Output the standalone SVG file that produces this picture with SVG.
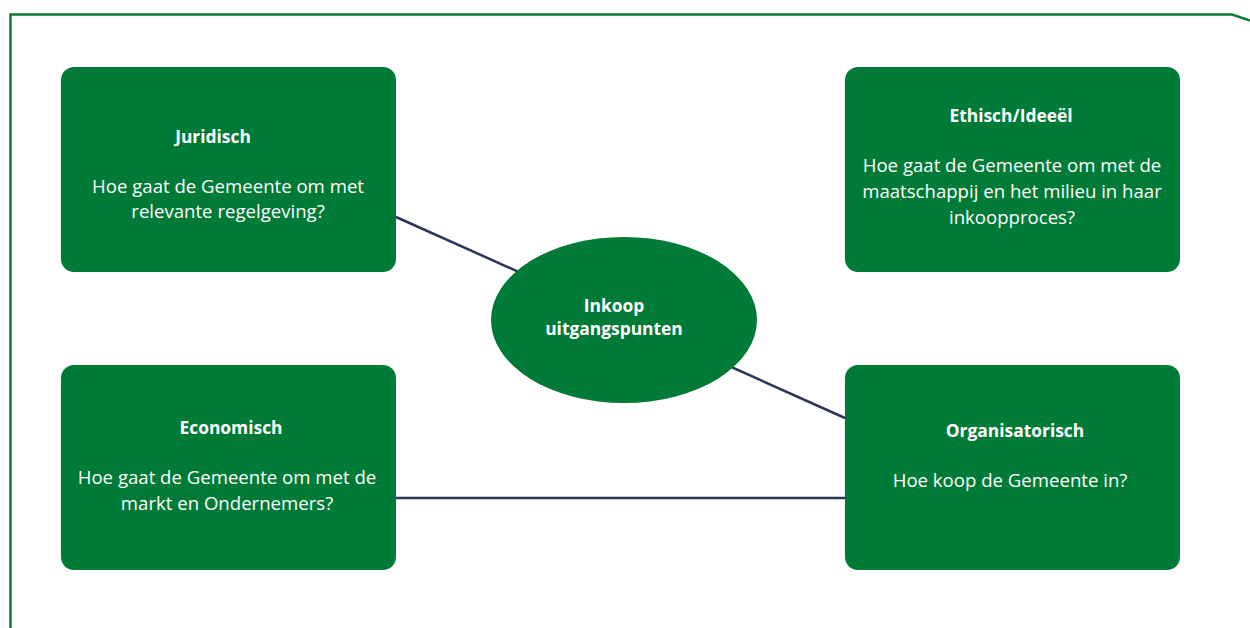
<svg xmlns="http://www.w3.org/2000/svg" width="1250" height="628" viewBox="0 0 1250 628">
<style>
.box{fill:#007a37;}
.t{font-family:"Open Sans","Noto Sans","Liberation Sans",sans-serif;fill:#ffffff;text-anchor:middle;font-size:18.6px;}
.b{font-weight:bold;font-size:17.4px;}
.conn{stroke:#2b3459;stroke-width:2.5;fill:none;}
</style>
<rect width="1250" height="628" fill="#ffffff"/>
<path d="M10.5,628 L10.5,14.5 L1232,14.5 L1250,20.5" fill="none" stroke="#0f7a36" stroke-width="2.5"/>
<g id="connectors">
<line class="conn" x1="396" y1="217" x2="845" y2="418"/>
<line class="conn" x1="396" y1="498" x2="845" y2="498"/>
</g>
<g id="juridisch">
<rect class="box" x="61" y="67" width="335" height="205" rx="13"/>
<text class="t b" x="213" y="143">Juridisch</text>
<text class="t" x="228" y="193">Hoe gaat de Gemeente om met</text>
<text class="t" x="228" y="218">relevante regelgeving?</text>
</g>
<g id="ethisch">
<rect class="box" x="845" y="67" width="335" height="205" rx="13"/>
<text class="t b" x="1011" y="122">Ethisch/Ideeël</text>
<text class="t" x="1012" y="172">Hoe gaat de Gemeente om met de</text>
<text class="t" x="1012" y="198">maatschappij en het milieu in haar</text>
<text class="t" x="1012" y="224">inkoopproces?</text>
</g>
<g id="economisch">
<rect class="box" x="61" y="365" width="335" height="205" rx="13"/>
<text class="t b" x="231" y="434">Economisch</text>
<text class="t" x="227" y="484">Hoe gaat de Gemeente om met de</text>
<text class="t" x="227" y="510">markt en Ondernemers?</text>
</g>
<g id="organisatorisch">
<rect class="box" x="845" y="365" width="335" height="205" rx="13"/>
<text class="t b" x="1015" y="437">Organisatorisch</text>
<text class="t" x="1010" y="487">Hoe koop de Gemeente in?</text>
</g>
<g id="inkoop">
<ellipse class="box" cx="624" cy="320" rx="133" ry="83"/>
<text class="t b" x="614" y="312">Inkoop</text>
<text class="t b" x="614" y="335">uitgangspunten</text>
</g>
</svg>
